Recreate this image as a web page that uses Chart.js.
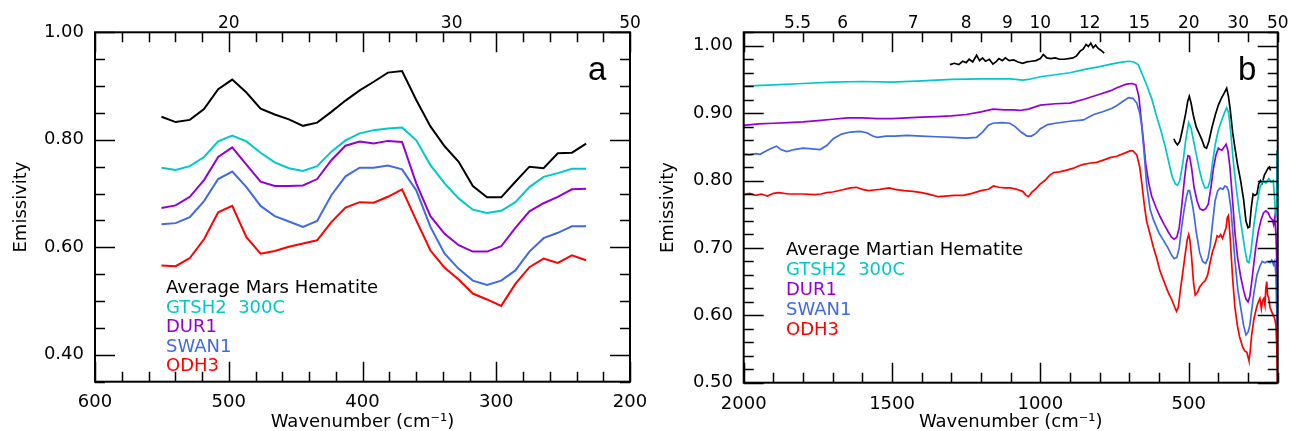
<!DOCTYPE html>
<html>
<head>
<meta charset="utf-8">
<script src="https://cdn.jsdelivr.net/npm/chart.js@4/dist/chart.umd.min.js"></script>
<style>
  body { margin: 0; background: #fff; }
  #wrap { position: relative; width: 1291px; height: 431px; overflow: hidden; }
  canvas { position: absolute; top: 0; }
  .legend { position: absolute; font-family: 'DejaVu Sans', sans-serif; font-size: 18px; z-index: 2; }
  .legend div { white-space: pre; }
  .panel { position: absolute; font-family: 'Liberation Sans', sans-serif; font-size: 33px; line-height: 1; z-index: 2; }
</style>
</head>
<body>
<div id="wrap">
  <canvas id="leftChart" width="650" height="431" style="left:0"></canvas>
  <canvas id="rightChart" width="641" height="431" style="left:650px"></canvas>

  <div class="legend" style="left:166px; top:277px; line-height:19.5px">
    <div style="color:#000">Average Mars Hematite</div>
    <div style="color:#00c8c8">GTSH2  300C</div>
    <div style="color:#9400d3">DUR1</div>
    <div style="color:#4169e1">SWAN1</div>
    <div style="color:#ff0000">ODH3</div>
  </div>
  <div class="legend" style="left:786px; top:239px; line-height:20px">
    <div style="color:#000">Average Martian Hematite</div>
    <div style="color:#00c8c8">GTSH2  300C</div>
    <div style="color:#9400d3">DUR1</div>
    <div style="color:#4169e1">SWAN1</div>
    <div style="color:#ff0000">ODH3</div>
  </div>
  <div class="panel" style="left:588px; top:52px">a</div>
  <div class="panel" style="left:1238px; top:52px">b</div>
</div>

<script>
// Panel a: TES-resolution spectra (cm-1)
const leftWavenumber = [550.3,539.7,529.1,518.5,507.9,497.4,486.8,476.2,465.6,455.0,444.5,433.9,423.3,412.7,402.1,391.6,381.0,370.4,359.8,349.2,338.6,328.1,317.5,306.9,296.3,285.7,275.2,264.6,254.0,243.4,232.8];
const leftMars  = [0.843,0.833,0.837,0.857,0.894,0.912,0.888,0.858,0.847,0.838,0.826,0.832,0.852,0.873,0.892,0.908,0.925,0.928,0.874,0.825,0.788,0.759,0.714,0.693,0.693,0.722,0.750,0.747,0.775,0.776,0.793];
const leftGtsh2 = [0.748,0.744,0.751,0.768,0.797,0.808,0.797,0.776,0.758,0.747,0.742,0.751,0.778,0.799,0.812,0.818,0.821,0.823,0.799,0.753,0.719,0.691,0.670,0.664,0.668,0.684,0.712,0.731,0.738,0.746,0.746];
const leftDur1  = [0.673,0.678,0.694,0.725,0.768,0.786,0.754,0.722,0.714,0.714,0.715,0.727,0.762,0.789,0.797,0.793,0.798,0.796,0.719,0.658,0.625,0.604,0.592,0.592,0.602,0.636,0.667,0.682,0.694,0.708,0.709];
const leftSwan1 = [0.643,0.645,0.656,0.686,0.727,0.741,0.712,0.677,0.658,0.648,0.638,0.649,0.697,0.732,0.748,0.748,0.752,0.745,0.706,0.638,0.588,0.560,0.538,0.530,0.538,0.557,0.592,0.617,0.627,0.639,0.639];
const leftOdh3  = [0.566,0.565,0.580,0.615,0.665,0.677,0.619,0.588,0.593,0.601,0.607,0.613,0.647,0.674,0.684,0.683,0.694,0.708,0.650,0.594,0.562,0.540,0.514,0.503,0.491,0.532,0.563,0.579,0.571,0.585,0.576];
const leftTopMicrons = [20, 30, 50];

// Panel b: lab spectra, each with its own sampling
const rightMarsHighX = [1305,1290,1275,1262,1250,1240,1228,1215,1205,1195,1185,1172,1160,1150,1140,1128,1118,1105,1090,1075,1060,1045,1030,1015,1000,990,978,965,950,935,920,905,890,878,866,856,846,838,830,822,814,805,795,785];
const rightMarsHigh  = [0.972,0.974,0.972,0.977,0.975,0.980,0.976,0.986,0.978,0.982,0.977,0.980,0.973,0.976,0.981,0.978,0.982,0.978,0.979,0.976,0.974,0.976,0.977,0.978,0.981,0.987,0.982,0.981,0.982,0.980,0.980,0.981,0.982,0.985,0.992,0.995,1.002,0.999,1.004,0.997,1.001,0.996,0.993,0.989];
const rightMarsLowX = [550,545,538,530,520,510,503,498,492,485,475,465,455,447,440,432,422,410,400,390,380,372,366,360,352,344,335,325,315,307,300,295,289,283,277,270,264,258,252,245,240,233,228,224];
const rightMarsLow  = [0.862,0.857,0.853,0.858,0.878,0.900,0.918,0.925,0.915,0.898,0.880,0.870,0.860,0.850,0.848,0.858,0.878,0.898,0.912,0.922,0.930,0.937,0.925,0.905,0.872,0.848,0.823,0.800,0.772,0.740,0.730,0.731,0.760,0.780,0.778,0.780,0.795,0.800,0.796,0.808,0.812,0.818,0.820,0.815];
const rightGtsh2X = [2000,1900,1800,1700,1600,1500,1400,1300,1200,1150,1100,1060,1040,1000,950,900,850,800,750,720,700,685,670,655,640,625,610,595,580,565,555,545,538,530,520,510,500,492,485,475,465,455,445,435,428,420,410,400,390,380,372,365,358,350,340,330,320,310,303,297,290,280,270,260,250,240,230,222,215,210,207,205,203,201];
const rightGtsh2  = [0.940,0.942,0.944,0.946,0.947,0.946,0.948,0.950,0.951,0.951,0.951,0.949,0.950,0.954,0.957,0.960,0.965,0.969,0.974,0.976,0.977,0.976,0.972,0.956,0.940,0.922,0.898,0.876,0.852,0.823,0.805,0.795,0.793,0.800,0.825,0.860,0.886,0.878,0.862,0.840,0.818,0.800,0.789,0.790,0.800,0.825,0.855,0.875,0.888,0.900,0.908,0.900,0.870,0.830,0.790,0.755,0.725,0.696,0.680,0.678,0.695,0.735,0.765,0.790,0.800,0.796,0.803,0.798,0.800,0.770,0.745,0.760,0.845,0.820];
const rightDur1X = [2000,1950,1900,1850,1800,1750,1700,1650,1600,1550,1500,1450,1400,1350,1300,1250,1200,1160,1120,1090,1070,1040,1000,950,900,850,800,765,740,710,690,678,668,660,653,645,635,625,610,597,583,569,558,549,540,532,524,516,508,502,497,490,482,472,462,452,443,434,425,417,408,400,394,388,380,374,368,361,352,344,335,325,315,307,300,294,288,282,274,265,256,248,240,232,225,218,214,210,206,203,201];
const rightDur1  = [0.882,0.884,0.885,0.886,0.887,0.889,0.891,0.893,0.893,0.892,0.892,0.893,0.894,0.895,0.896,0.898,0.902,0.906,0.905,0.905,0.904,0.906,0.912,0.914,0.915,0.921,0.928,0.933,0.938,0.943,0.944,0.942,0.925,0.890,0.861,0.825,0.797,0.777,0.760,0.747,0.735,0.724,0.716,0.713,0.716,0.730,0.760,0.795,0.825,0.837,0.836,0.818,0.790,0.770,0.758,0.756,0.758,0.765,0.790,0.817,0.838,0.848,0.846,0.845,0.850,0.854,0.845,0.820,0.770,0.722,0.685,0.658,0.637,0.624,0.620,0.628,0.648,0.671,0.700,0.725,0.742,0.752,0.755,0.752,0.745,0.742,0.735,0.745,0.720,0.680,0.600];
const rightSwan1X = [2000,1980,1960,1945,1920,1900,1889,1875,1855,1830,1800,1770,1743,1720,1698,1670,1640,1608,1585,1565,1550,1520,1490,1450,1400,1350,1300,1250,1215,1195,1175,1160,1130,1103,1085,1065,1045,1030,1015,1000,975,950,900,855,820,790,760,743,720,703,688,675,665,658,650,642,630,619,600,586,570,556,549,540,532,524,516,508,502,497,490,484,475,463,453,443,435,428,420,411,402,394,385,378,372,366,358,350,344,335,325,315,307,300,294,287,280,270,260,252,243,235,226,220,214,210,206,203,201];
const rightSwan1  = [0.839,0.838,0.840,0.839,0.845,0.849,0.851,0.846,0.843,0.846,0.848,0.847,0.846,0.852,0.862,0.869,0.872,0.873,0.871,0.866,0.864,0.866,0.866,0.867,0.866,0.865,0.864,0.863,0.864,0.872,0.882,0.885,0.886,0.885,0.880,0.872,0.866,0.866,0.870,0.877,0.883,0.885,0.888,0.890,0.898,0.902,0.907,0.911,0.918,0.923,0.922,0.915,0.900,0.880,0.840,0.795,0.757,0.742,0.722,0.712,0.700,0.688,0.684,0.686,0.700,0.730,0.755,0.775,0.785,0.785,0.770,0.755,0.725,0.693,0.680,0.677,0.685,0.702,0.735,0.770,0.785,0.789,0.787,0.792,0.791,0.785,0.760,0.715,0.681,0.640,0.612,0.585,0.571,0.575,0.585,0.610,0.634,0.660,0.673,0.680,0.678,0.680,0.678,0.682,0.675,0.680,0.660,0.600,0.560];
const rightOdh3X = [2000,1980,1960,1940,1920,1900,1880,1850,1800,1760,1740,1720,1700,1670,1640,1620,1600,1580,1560,1540,1510,1490,1460,1430,1400,1370,1344,1320,1290,1260,1230,1200,1175,1158,1140,1120,1100,1080,1060,1048,1040,1030,1015,1000,985,968,955,935,915,890,870,855,830,810,790,765,743,720,698,688,675,665,658,650,642,630,619,608,597,583,569,556,547,541,535,527,518,512,505,500,496,490,484,478,470,463,453,445,436,428,420,411,404,398,392,386,380,374,370,366,361,352,344,336,328,318,311,304,300,297,293,288,280,271,265,260,255,251,247,243,240,237,234,230,226,220,215,210,206,203,201];
const rightOdh3  = [0.779,0.781,0.778,0.780,0.777,0.781,0.782,0.780,0.780,0.779,0.780,0.782,0.783,0.786,0.789,0.790,0.787,0.785,0.786,0.787,0.789,0.787,0.785,0.784,0.782,0.779,0.776,0.777,0.778,0.778,0.781,0.785,0.787,0.792,0.790,0.789,0.789,0.787,0.784,0.778,0.776,0.782,0.788,0.795,0.800,0.808,0.812,0.813,0.815,0.818,0.822,0.824,0.826,0.827,0.830,0.834,0.836,0.840,0.844,0.844,0.838,0.820,0.796,0.765,0.740,0.720,0.701,0.685,0.666,0.650,0.634,0.622,0.612,0.606,0.612,0.641,0.670,0.690,0.712,0.720,0.712,0.685,0.650,0.630,0.634,0.642,0.648,0.651,0.660,0.678,0.694,0.706,0.718,0.716,0.720,0.714,0.722,0.730,0.745,0.748,0.720,0.655,0.611,0.585,0.567,0.553,0.547,0.545,0.538,0.533,0.545,0.570,0.595,0.612,0.620,0.625,0.610,0.622,0.625,0.615,0.640,0.650,0.630,0.625,0.612,0.605,0.600,0.595,0.585,0.550,0.500];
const rightTopMicrons = [5.5, 6, 7, 8, 9, 10, 12, 15, 20, 30, 50];

const colors = { mars: '#000000', gtsh2: '#00c8c8', dur1: '#9400d3', swan1: '#4169e1', odh3: '#ff0000' };

Chart.defaults.font.family = "'DejaVu Sans', sans-serif";
Chart.defaults.color = '#000';

const pts = (xs, ys) => xs.map((x, i) => ({ x: x, y: ys[i] }));
const isMajor = (v, step) => Math.abs(v / step - Math.round(v / step)) < 1e-6;

// IDL-style box with inward ticks, mirrored on all four sides
const insideTicks = {
  id: 'insideTicks',
  afterDatasetsDraw(chart, args, opts) {
    const { ctx, chartArea: a, scales: { x, y } } = chart;
    ctx.save();
    ctx.strokeStyle = '#000';
    ctx.lineWidth = 1.5;
    ctx.beginPath();
    x.ticks.forEach(t => {
      const px = Math.round(x.getPixelForValue(t.value)) + 0.5;
      const len = isMajor(t.value, opts.xMajor) ? 20 : 10;
      ctx.moveTo(px, a.bottom); ctx.lineTo(px, a.bottom - len);
      ctx.moveTo(px, a.top); ctx.lineTo(px, a.top + len);
    });
    y.ticks.forEach(t => {
      const py = Math.round(y.getPixelForValue(t.value)) + 0.5;
      const len = isMajor(t.value, opts.yMajor) ? 20 : 10;
      ctx.moveTo(a.left, py); ctx.lineTo(a.left + len, py);
      ctx.moveTo(a.right, py); ctx.lineTo(a.right - len, py);
    });
    ctx.stroke();
    ctx.lineWidth = 2;
    ctx.strokeRect(a.left, a.top, a.width, a.height);
    ctx.restore();
  }
};

function makeChart(id, p) {
  return new Chart(document.getElementById(id), {
    type: 'line',
    data: { datasets: p.datasets },
    plugins: [insideTicks],
    options: {
      responsive: false,
      animation: false,
      layout: { padding: { left: 0, right: p.padRight, top: 0, bottom: 0 } },
      elements: { point: { radius: 0 }, line: { tension: 0 } },
      plugins: {
        legend: { display: false },
        tooltip: { enabled: false },
        insideTicks: { xMajor: p.xMajor, yMajor: p.yMajor }
      },
      scales: {
        x: {
          type: 'linear', position: 'bottom', reverse: true, min: p.xMin, max: p.xMax,
          grid: { display: false, drawTicks: false }, border: { display: false },
          ticks: {
            stepSize: p.xStep, autoSkip: false, maxRotation: 0, padding: p.xPad,
            font: { size: 18 },
            callback: v => isMajor(v, p.xMajor) ? String(v) : ''
          },
          title: { display: true, text: 'Wavenumber (cm⁻¹)', font: { size: 18, lineHeight: 1 }, padding: { top: 0, bottom: 0 } },
          afterFit: s => { s.height = p.xHeight; s.paddingLeft = 0; s.paddingRight = 0; }
        },
        xTop: {
          type: 'linear', position: 'top', reverse: true, min: p.xMin, max: p.xMax,
          grid: { display: false, drawTicks: false }, border: { display: false },
          afterBuildTicks: s => { s.ticks = p.topMicrons.map(m => ({ value: 10000 / m })); },
          ticks: {
            autoSkip: false, maxRotation: 0, padding: 0,
            font: { size: 17, lineHeight: 1 },
            callback: (v, i) => String(p.topMicrons[i])
          },
          afterFit: s => { s.height = 32.3; s.paddingLeft = 0; s.paddingRight = 0; }
        },
        y: {
          type: 'linear', position: 'left', min: p.yMin, max: p.yMax,
          grid: { display: false, drawTicks: false }, border: { display: false },
          ticks: {
            stepSize: p.yStep, autoSkip: false, padding: p.yPad,
            font: { size: 18 },
            callback: v => isMajor(v, p.yMajor) ? v.toFixed(2) : ''
          },
          title: { display: true, text: 'Emissivity', font: { size: 18, lineHeight: 1 }, padding: { top: p.titlePad, bottom: 0 } },
          afterFit: s => { s.width = p.yWidth; s.paddingTop = 0; s.paddingBottom = 0; }
        }
      }
    }
  });
}

const line = (data, color, w) => ({ data: data, borderColor: color, borderWidth: w, fill: false });

makeChart('leftChart', {
  xMin: 200, xMax: 600, xStep: 20, xMajor: 100, xPad: 10, xHeight: 49.3,
  yMin: 0.35, yMax: 1.0, yStep: 0.05, yMajor: 0.2, yPad: 11, yWidth: 95,
  padRight: 20, titlePad: 12.4, topMicrons: leftTopMicrons,
  datasets: [
    line(pts(leftWavenumber, leftOdh3), colors.odh3, 2),
    line(pts(leftWavenumber, leftSwan1), colors.swan1, 2),
    line(pts(leftWavenumber, leftDur1), colors.dur1, 2),
    line(pts(leftWavenumber, leftGtsh2), colors.gtsh2, 2),
    line(pts(leftWavenumber, leftMars), colors.mars, 2)
  ]
});

makeChart('rightChart', {
  xMin: 200, xMax: 2000, xStep: 100, xMajor: 500, xPad: 11, xHeight: 48.3,
  yMin: 0.5, yMax: 1.02, yStep: 0.02, yMajor: 0.1, yPad: 10.7, yWidth: 93.7,
  padRight: 13.3, titlePad: 9.7, topMicrons: rightTopMicrons,
  datasets: [
    line(pts(rightOdh3X, rightOdh3), colors.odh3, 1.7),
    line(pts(rightSwan1X, rightSwan1), colors.swan1, 1.7),
    line(pts(rightDur1X, rightDur1), colors.dur1, 1.7),
    line(pts(rightGtsh2X, rightGtsh2), colors.gtsh2, 1.7),
    line(pts(rightMarsHighX, rightMarsHigh), colors.mars, 1.7),
    line(pts(rightMarsLowX, rightMarsLow), colors.mars, 1.7)
  ]
});
</script>
</body>
</html>
